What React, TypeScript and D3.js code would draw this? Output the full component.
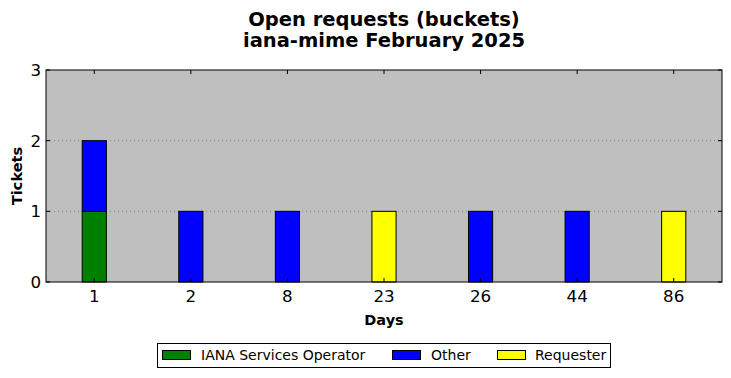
import React from "react";
import * as d3 from "d3";

const categories = ["1", "2", "8", "23", "26", "44", "86"];
const iana = [1, 0, 0, 0, 0, 0, 0];
const other = [1, 1, 1, 0, 1, 1, 0];
const requester = [0, 0, 0, 1, 0, 0, 1];
const seriesNames = ["IANA Services Operator", "Other", "Requester"];
const seriesColors = ["#008000", "#0000ff", "#ffff00"];
const yTicks = [0, 1, 2, 3];

export default function App() {
  const W = 731, H = 378;
  const L = 46, R = 722, T = 70, B = 282;
  const font = "DejaVu Sans, sans-serif";
  const x = d3.scaleLinear().domain([-0.5, categories.length - 0.5]).range([L, R]);
  const y = d3.scaleLinear().domain([0, 3]).range([B, T]);
  const step = x(1) - x(0);
  const bw = step * 0.25;
  const series = [iana, other, requester];
  const stack = d3.stack<number>().keys(["0", "1", "2"]).value((d, k) => series[+k][d]);
  const stacked = stack(categories.map((_, i) => i));

  const legendItems = [
    { x: 162, tx: 201 },
    { x: 392, tx: 431 },
    { x: 497, tx: 535 },
  ];

  return (
    <svg width={W} height={H} style={{ position: "absolute", left: 0, top: 0 }} fontFamily={font}>
      <rect x={0} y={0} width={W} height={H} fill="#fff" />
      <text x={384} y={26} textAnchor="middle" fontSize={19.5} fontWeight="bold">Open requests (buckets)</text>
      <text x={384} y={47} textAnchor="middle" fontSize={19.5} fontWeight="bold">iana-mime February 2025</text>
      <rect x={L} y={T} width={R - L} height={B - T} fill="#bfbfbf" />
      {[1, 2].map((v) => (
        <line key={v} x1={L} x2={R} y1={y(v)} y2={y(v)} stroke="#808080" strokeWidth={1} strokeDasharray="1,3" />
      ))}
      {stacked.map((layer, si) =>
        layer.map((d, i) =>
          d[1] - d[0] > 0 ? (
            <rect key={si + "-" + i} x={x(i) - bw / 2} y={y(d[1])} width={bw} height={y(d[0]) - y(d[1])}
              fill={seriesColors[si]} stroke="#000" strokeWidth={1} />
          ) : null
        )
      )}
      {categories.map((c, i) => (
        <g key={c}>
          <line x1={x(i)} x2={x(i)} y1={B} y2={B - 4} stroke="#000" />
          <line x1={x(i)} x2={x(i)} y1={T} y2={T + 4} stroke="#000" />
          <text x={x(i)} y={302} textAnchor="middle" fontSize={16.7}>{c}</text>
        </g>
      ))}
      {yTicks.map((v) => (
        <g key={v}>
          <line x1={L} x2={L + 4} y1={y(v)} y2={y(v)} stroke="#000" />
          <line x1={R} x2={R - 4} y1={y(v)} y2={y(v)} stroke="#000" />
          <text x={41} y={y(v) + 6} textAnchor="end" fontSize={16.7}>{v}</text>
        </g>
      ))}
      <rect x={L} y={T} width={R - L} height={B - T} fill="none" stroke="#000" strokeWidth={1} />
      <text x={384} y={325} textAnchor="middle" fontSize={14.5} fontWeight="bold">Days</text>
      <text transform={`translate(22,${(T + B) / 2}) rotate(-90)`} textAnchor="middle" fontSize={14.5} fontWeight="bold">Tickets</text>
      <rect x={157.5} y={343.5} width={453} height={24} fill="#fff" stroke="#000" strokeWidth={1} />
      {legendItems.map((it, i) => (
        <g key={i}>
          <rect x={it.x + 0.5} y={350.5} width={28} height={9} fill={seriesColors[i]} stroke="#000" strokeWidth={1} />
          <text x={it.tx} y={360} fontSize={14}>{seriesNames[i]}</text>
        </g>
      ))}
    </svg>
  );
}
